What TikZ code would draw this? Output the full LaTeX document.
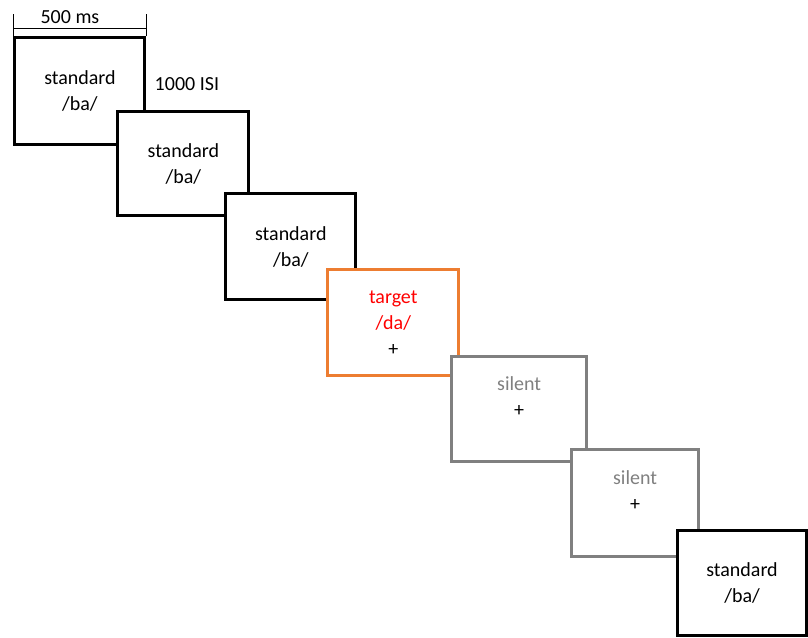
\documentclass[tikz,border=0pt]{standalone}
\usepackage{fontspec}
\setmainfont{Carlito}
\usepackage{tikz}
\usetikzlibrary{positioning}

\definecolor{tgtorange}{RGB}{237,125,49}
\definecolor{silentgray}{RGB}{128,128,128}

\begin{document}
\begin{tikzpicture}[
  x=1pt, y=-1pt,
  font=\fontsize{20}{26}\selectfont,
  trial/.style={draw, fill=white, line width=3pt, align=center, inner sep=0pt,
    minimum width=131pt, minimum height=106pt},
  stdbox/.style={trial, draw=black},
  tgtbox/.style={trial, draw=tgtorange, text=red},
  silbox/.style={trial, draw=silentgray},
  bar/.style={line width=1.2pt}
]
\fill[white] (0,0) rectangle (808,638);
\node[stdbox, minimum width=130pt, minimum height=107pt] (std1) at (80,91.5) {standard\\/ba/};
\node[stdbox, minimum height=104pt] (std2) at (183.5,164) {standard\\/ba/};
\node[stdbox, minimum width=130pt] (std3) at (291,247) {standard\\/ba/};
\node[tgtbox] (tgt) at (393.5,323) {target\\/da/\\\textcolor{black}{+}};
\node[silbox, minimum width=135pt, minimum height=105pt] (sil1) at (519.5,409.5)
  {\textcolor{silentgray}{silent}\\+\\\mbox{}};
\node[silbox, minimum width=127pt, minimum height=107pt] (sil2) at (635.5,503.5)
  {\textcolor{silentgray}{silent}\\+\\\mbox{}};
\node[stdbox, minimum width=129pt, minimum height=105pt] (std4) at (742.5,583.5) {standard\\/ba/};
% duration marks
\coordinate (barL) at ([yshift=22pt]std1.north west);
\coordinate (barR) at ([yshift=22pt]std1.north east);
\draw[bar] (std1.north west) -- (barL);
\draw[bar] (std1.north east) -- (barR);
\draw[bar] ([yshift=8pt]std1.north west) -- ([yshift=8pt]std1.north east);
\node (dur) at (70,17) {500 ms};
\node (isi) at (187,84) {1000 ISI};
\end{tikzpicture}
\end{document}
